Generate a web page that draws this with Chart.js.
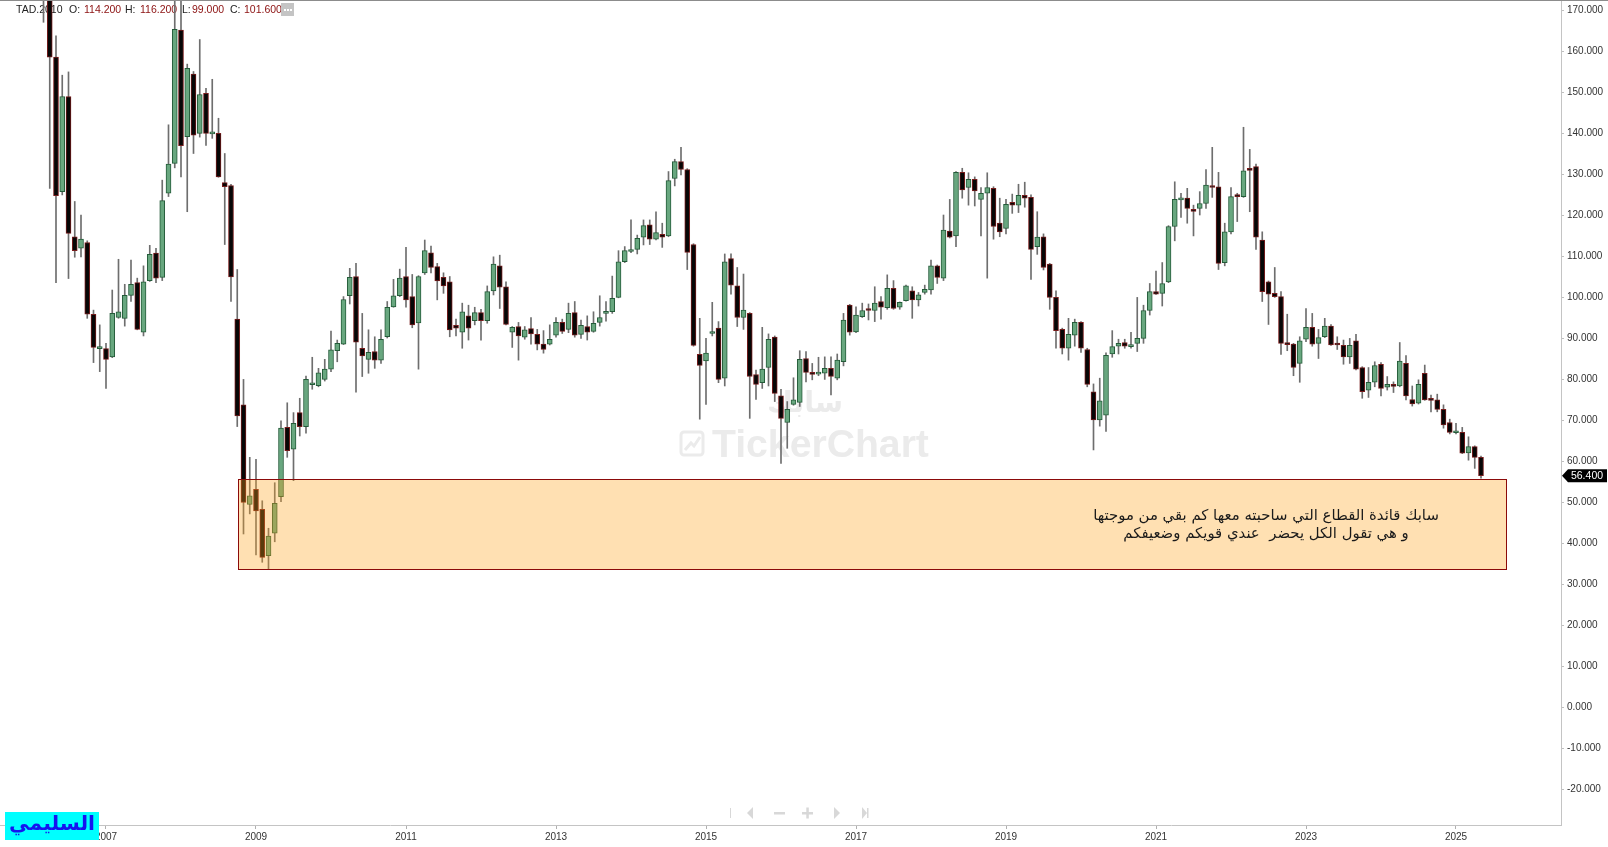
<!DOCTYPE html>
<html>
<head>
<meta charset="utf-8">
<script src="https://cdn.jsdelivr.net/npm/chart.js@4.4.1/dist/chart.umd.min.js"></script>
<style>
  html, body { margin: 0; padding: 0; background: #fff; }
  #wrap { position: relative; width: 1608px; height: 847px; }
</style>
</head>
<body>
<div id="wrap"><canvas id="myChart"></canvas></div>
<script>
var symbol = "TAD.2010";
var ohlcNames = ["O:", "H:", "L:", "C:"];
var ohlcText = ["114.200", "116.200", "99.000", "101.600"];

// monthly candles, first one is mar 2006 (x = months from jan 2007)
var firstMonth = -10;
var opens = [
  195, 185, 158.5, 125.7, 148.9, 114.7, 111.9, 113.3, 95.8, 87.4,
  87.4, 85.4, 95, 94.8, 100.4, 103.5, 91.4, 104, 110.7, 104.8, 125.3, 132.6,
  165.1, 139.1, 154.4, 139.9, 149.7, 139.8, 139.9, 127.9, 127.2, 94.6, 73.7, 49.4,
  53.1, 48.2, 36.9, 42.4, 51.3, 68.2, 62.9, 71.8, 68.4, 78.6, 78.4, 79.9,
  82.4, 86.9, 88.5, 100.3, 105, 87.5, 84.8, 86.7, 84.6, 90.3, 97.6, 100.3,
  105, 100.1, 93.7, 105.9, 110.8, 107.4, 104.8, 103.7, 93.1, 91.4, 95.4, 94.2,
  96.2, 94.2, 101.5, 107.6, 102.5, 91.4, 92.8, 90.2, 92.3, 90.9, 88.5, 88.5,
  90.7, 93.8, 92.1, 96.2, 90.9, 92.8, 91.6, 93.8, 96, 96.4, 99.9, 108.6,
  111.1, 111.6, 114.6, 117.6, 114.1, 115.3, 114.9, 128.9, 133, 131.1, 112.8, 86,
  84.4, 91.1, 92.4, 80.2, 109.4, 102.7, 95, 96, 81.1, 79.1, 82.8, 90.2,
  75.9, 69.4, 73.8, 74.3, 85, 81.6, 81.2, 81.4, 82.6, 80.2, 84.2, 98,
  91.5, 95.2, 97.2, 96.7, 98.9, 97.4, 102.1, 97.5, 99.1, 101.5, 99.3, 101.1,
  101.7, 107.6, 104.6, 116.1, 114.9, 130.4, 126.7, 128.7, 123.8, 125.3, 126.5, 118,
  116.7, 123.1, 122.4, 124.8, 124.3, 112.3, 114.7, 108, 99.9, 92.1, 87.5, 90.7,
  93.8, 87.2, 76.9, 70, 71.2, 86.1, 88, 88.9, 87.9, 88.7, 89.9, 96.7,
  101.3, 100.9, 103.7, 117.2, 123.7, 124.1, 121.4, 121.6, 122.8, 127, 126.9, 108.4,
  115.9, 124.8, 124.5, 131.2, 131.8, 113.9, 103.7, 100.9, 100.1, 88.7, 88.5, 83.8,
  89.7, 92.6, 88.7, 90.3, 92.9, 88.6, 88.2, 85.4, 89.3, 82.8, 77.3, 79.2,
  83.6, 78, 78.5, 78.3, 83.8, 75, 74.1, 81.4, 75, 74.9, 72.6, 69.4,
  66.9, 67, 62, 63.5, 60.9
];
var highs = [
  205, 192, 163.7, 154.1, 154.9, 123.3, 120, 113.7, 96.8, 93.2,
  88.7, 101.7, 109.2, 103.1, 109, 104.6, 107.6, 112.6, 111.9, 128.5, 142, 176,
  178, 156.8, 155, 162.8, 150.9, 153.1, 143.6, 135, 127.5, 106.7, 79.9, 60.9,
  60.4, 50.3, 43.6, 54.7, 69.8, 74.2, 71.8, 75.3, 80.7, 85.3, 82.6, 84.8,
  91.7, 89.5, 100.1, 107, 108.2, 96, 92, 90.3, 92, 98.9, 104.3, 106.8,
  112.1, 105.5, 105.2, 113.9, 112.4, 108.2, 105.9, 105, 94.6, 98.5, 98, 97.5,
  97, 102.7, 109.8, 110.2, 103.7, 92.8, 93.8, 92.8, 95, 92.1, 91.8, 93.2,
  95, 94.6, 98.5, 98.9, 94.4, 95.4, 96.4, 100.3, 98.9, 105.1, 111.3, 112.3,
  118.8, 115.1, 118.8, 118.8, 120.8, 118, 130.6, 133.6, 136.5, 131.3, 113, 94.8,
  89.9, 98.7, 94, 110.5, 110.5, 107.2, 105.6, 96.2, 82.2, 92.6, 91, 90.5,
  77.5, 74.5, 80.3, 86.9, 86.7, 83.8, 85.3, 85.4, 85.4, 86.1, 96, 98.2,
  97.6, 98.5, 98.3, 102.5, 100.1, 105.4, 104, 98.8, 102.9, 102.5, 101.1, 102.9,
  109, 107.8, 120, 123.8, 130.6, 131.4, 130.3, 129.3, 126.7, 130.3, 126.9, 124.1,
  123.8, 125.1, 127.5, 128, 124.9, 120.8, 115.4, 108.2, 101.5, 92.4, 94.8, 94.6,
  94, 87.5, 78.8, 80.2, 86.4, 91.8, 89.7, 89.7, 91.4, 99.9, 98, 103.3,
  106.3, 108.4, 117.4, 128.1, 125.3, 126.5, 122.4, 125.7, 131.1, 136.5, 130.4, 118,
  126.7, 125.3, 141.4, 136, 132.4, 115.9, 103.9, 107.2, 101.3, 95.8, 88.7, 90.3,
  97.2, 96, 92.1, 94.8, 93.3, 90.3, 89.5, 89.9, 90.9, 83, 82.8, 84.2,
  84, 80.6, 79.3, 88.9, 85.7, 78.3, 79.8, 83.4, 76.1, 76.3, 73.7, 70.2,
  69.2, 68.2, 65.9, 63.7, 61.2
];
var lows = [
  167, 126.5, 103.5, 124.9, 104.5, 109.7, 109.8, 94.8, 84, 81.8,
  77.7, 85.2, 94.8, 92.9, 98.9, 92, 90.5, 103.8, 103.5, 104, 124.5, 131.5,
  129.3, 120.8, 135, 139, 137, 138.7, 129.2, 112.8, 98.9, 68.4, 42.2, 47.1,
  37.1, 35.3, 33.6, 40.3, 50.1, 60.9, 55.2, 66.1, 66.8, 77.5, 78.1, 79.5,
  81.8, 84.2, 88.4, 98.3, 76.8, 80.6, 81.4, 82.6, 83.8, 90, 97.5, 100.1,
  97.5, 92.5, 82.4, 105.5, 105.9, 99.3, 100.9, 90.3, 90.5, 87.5, 89.5, 93.2,
  89.5, 93.6, 100.5, 97.2, 93.2, 87.7, 84.6, 89.7, 88.5, 87.1, 86.3, 88.3,
  90.2, 91.1, 91.3, 90.2, 89.9, 89.5, 91.4, 92.9, 94.1, 96, 99.8, 108.4,
  110.8, 110.5, 112.7, 112.8, 113.9, 112.1, 114.7, 127.1, 129.8, 106.7, 88, 70.2,
  73.8, 90.5, 79.1, 78.3, 100.7, 92.8, 92.1, 70.4, 75, 77.7, 78.3, 74.5,
  59.4, 63.1, 73.6, 73.3, 79.3, 79.8, 80.8, 79.9, 76.1, 79.8, 83.2, 90.7,
  91.3, 95, 94.4, 94, 94.6, 97, 97, 97, 99, 94.8, 97.8, 100.7,
  100.7, 103.3, 104, 114.4, 112.3, 124.1, 122.4, 122.2, 114.9, 104.6, 114.1, 114.7,
  115.4, 120.4, 120.6, 121.9, 104.3, 110.4, 106.6, 97, 87.5, 86.1, 84.6, 88,
  86.5, 78.1, 62.7, 68.5, 67.2, 85.3, 86.1, 87.5, 87.5, 86.7, 88.7, 95.6,
  100.6, 97.8, 103.5, 113.7, 119.4, 118, 114.9, 120, 121.6, 124.3, 106.7, 107.6,
  115.4, 118.4, 124.3, 120.8, 111.6, 98.9, 93.3, 99.9, 86, 86.9, 80.8, 79.2,
  89.1, 88, 85, 90.1, 88.2, 87.2, 83.6, 83.8, 82.2, 75.3, 75.5, 78.1,
  75.9, 77.3, 76.7, 78.1, 74.9, 73.4, 73.9, 74.8, 72, 72, 68, 66.6,
  66.6, 61.8, 60.2, 58.2, 55.8
];
var closes = [
  180, 158.5, 124.7, 148.9, 115.5, 111.3, 114.1, 95.8, 87.7, 87.8,
  84.8, 96, 96.4, 100.4, 103.1, 92.1, 103.7, 110.4, 104.6, 123.5, 132.4, 165.3,
  136.9, 155.8, 139.5, 149.4, 139.9, 140.2, 129.3, 126.9, 104.9, 71, 49.9, 51.5,
  47.8, 36.5, 41.7, 49.7, 68, 62.5, 69.2, 68.4, 79.9, 79, 81.5, 82.4,
  87.1, 88.7, 99.4, 104.8, 89, 85.6, 86.5, 84.6, 89.7, 97.5, 100.3, 104.6,
  99.3, 93.2, 105, 111.3, 107.2, 103.9, 102.7, 92, 92.4, 96.4, 92.4, 96.2,
  94.2, 101.3, 108, 102.4, 93.3, 92.6, 90.5, 92, 91, 88.5, 87.2, 89.7,
  93.8, 91.6, 96, 90.7, 93.1, 91.4, 93.6, 95, 96.4, 99.7, 108.6, 111.3,
  111.5, 114.3, 117.4, 114.1, 115.7, 114.6, 128.4, 133, 131.1, 110.9, 88.2, 83.3,
  86.3, 91.5, 79.9, 108.6, 102.9, 95, 96.8, 80.6, 78.7, 82.4, 89.7, 76.5,
  70.4, 72.6, 74.9, 84.8, 81.6, 81.1, 81.6, 82.6, 80.6, 84.6, 94.4, 91.4,
  95.6, 96.7, 96.7, 98.5, 97.5, 102.1, 97.2, 98.7, 102.7, 99.3, 100.5, 101.9,
  107.6, 104.8, 116.3, 114.6, 130.4, 126.1, 128.7, 125.9, 125.3, 126.7, 117.2, 115.9,
  122.6, 122.4, 124.8, 124.1, 111.6, 114.6, 107.2, 99.9, 91.8, 87.5, 90.9, 93.8,
  87.5, 78.7, 70, 74.7, 85.8, 87.9, 88.7, 88, 88.3, 89.9, 96.7, 101.3,
  100.7, 103.3, 117.2, 123.8, 124.1, 121.6, 120.9, 122.8, 127.3, 126.7, 108.2, 115.9,
  124.5, 124.5, 130.8, 130.9, 114.6, 101.3, 100.7, 100.1, 88.7, 88.4, 82.8, 89.3,
  92.6, 88.5, 90.1, 92.9, 88.3, 88.3, 85.4, 88.2, 82.4, 76.9, 79.2, 83.3,
  77.7, 78.7, 78.2, 84.4, 75.9, 73.9, 78.7, 74.9, 74.8, 72.6, 68.8, 67,
  67.2, 61.9, 63.5, 60.9, 56.4
];

var yTicks = [-20, -10, 0, 10, 20, 30, 40, 50, 60, 70, 80, 90, 100, 110, 120, 130, 140, 150, 160, 170];
var xTickYears = [2007, 2009, 2011, 2013, 2015, 2017, 2019, 2021, 2023, 2025];

// highlighted zone (months / price) and the note inside it
var zone = { from: 21.2, to: 224, top: 55.5, bottom: 33.6 };
var noteAt = { x: 185.6, y: 44.3 };
var noteLines = [
  "سابك قائدة القطاع التي ساحبته معها كم بقي من موجتها",
  "و هي تقول الكل يحضر  عندي قويكم وضعيفكم"
];
var logoText = "السليمي";
var watermark = "TickerChart";
var watermarkName = "سابك";

var bodies = [];
var wicks = [];
var fills = [];
var borders = [];
for (var k = 0; k < closes.length; k++) {
  var m = firstMonth + k;
  bodies.push({ x: m, y: [opens[k], closes[k]] });
  wicks.push({ x: m, y: [lows[k], highs[k]] });
  var up = closes[k] >= opens[k];
  fills.push(up ? "#68a77f" : "#060606");
  borders.push(up ? "#245b39" : "#771c1c");
}

function fitFont(ctx, text, weight, family, width) {
  ctx.font = weight + " 20px " + family;
  var w = ctx.measureText(text).width;
  return weight + " " + (20 * width / w).toFixed(2) + "px " + family;
}

// chart.js pads the chart area for edge labels, the reference has none
function noPad(s) {
  s.paddingLeft = 0;
  s.paddingRight = 0;
  s.paddingTop = 0;
  s.paddingBottom = 0;
}

var decor = {
  id: "decor",
  beforeDatasetsDraw: function (chart) {
    var ctx = chart.ctx;
    ctx.save();

    // watermark
    ctx.fillStyle = "#ebebeb";
    ctx.textBaseline = "alphabetic";
    ctx.textAlign = "left";
    ctx.font = fitFont(ctx, watermark, "bold", "'Liberation Sans'", 217);
    ctx.fillText(watermark, 712, 457);
    ctx.strokeStyle = "#ebebeb";
    ctx.lineWidth = 3;
    ctx.beginPath();
    ctx.roundRect(681, 432, 22, 23, 3);
    ctx.stroke();
    ctx.beginPath();
    ctx.moveTo(685, 450);
    ctx.lineTo(691, 443);
    ctx.lineTo(694, 446);
    ctx.lineTo(700, 437);
    ctx.stroke();
    ctx.textAlign = "center";
    ctx.direction = "rtl";
    ctx.font = fitFont(ctx, watermarkName, "bold", "'DejaVu Sans'", 76);
    ctx.fillText(watermarkName, 805, 412);
    ctx.direction = "ltr";

    // header
    ctx.textAlign = "left";
    ctx.textBaseline = "middle";
    ctx.font = "10.5px 'Liberation Sans'";
    ctx.fillStyle = "#222";
    ctx.fillText(symbol, 16, 10);
    var nameX = [69, 125, 182, 230];
    var valX = [84, 140, 192, 244];
    for (var i = 0; i < 4; i++) {
      ctx.fillStyle = "#222";
      ctx.fillText(ohlcNames[i], nameX[i], 10);
      ctx.fillStyle = "#8b1010";
      ctx.fillText(ohlcText[i], valX[i], 10);
    }
    ctx.fillStyle = "#c4c4c4";
    ctx.fillRect(281, 3, 13, 13);
    ctx.fillStyle = "#fff";
    ctx.fillRect(284, 9, 2, 2);
    ctx.fillRect(287, 9, 2, 2);
    ctx.fillRect(290, 9, 2, 2);
    ctx.restore();
  },
  afterDraw: function (chart) {
    var ctx = chart.ctx;
    var xs = chart.scales.x;
    var ys = chart.scales.y;
    ctx.save();

    // zone box over the candles
    var x1 = Math.round(xs.getPixelForValue(zone.from));
    var x2 = Math.round(xs.getPixelForValue(zone.to));
    var y1 = Math.round(ys.getPixelForValue(zone.top));
    var y2 = Math.round(ys.getPixelForValue(zone.bottom));
    ctx.fillStyle = "rgba(255,165,30,0.34)";
    ctx.fillRect(x1, y1, x2 - x1, y2 - y1);
    ctx.strokeStyle = "#8b0a0a";
    ctx.lineWidth = 1;
    ctx.strokeRect(x1 + 0.5, y1 + 0.5, x2 - x1, y2 - y1);

    // note
    var nx = xs.getPixelForValue(noteAt.x);
    var ny = ys.getPixelForValue(noteAt.y);
    ctx.fillStyle = "#1a1a1a";
    ctx.textAlign = "center";
    ctx.textBaseline = "middle";
    ctx.direction = "rtl";
    ctx.font = fitFont(ctx, noteLines[0], "", "'DejaVu Sans'", 346);
    ctx.fillText(noteLines[0], nx, ny - 9);
    ctx.fillText(noteLines[1], nx, ny + 9);
    ctx.direction = "ltr";

    // last price tag
    var last = closes[closes.length - 1];
    var py = ys.getPixelForValue(last);
    var ax = chart.chartArea.right + 1;
    ctx.fillStyle = "#000";
    ctx.beginPath();
    ctx.moveTo(ax, py);
    ctx.lineTo(ax + 6, py - 6.5);
    ctx.lineTo(1607, py - 6.5);
    ctx.lineTo(1607, py + 6.5);
    ctx.lineTo(ax + 6, py + 6.5);
    ctx.closePath();
    ctx.fill();
    ctx.fillStyle = "#fff";
    ctx.font = "10.5px 'Liberation Sans'";
    ctx.fillText(last.toFixed(3), 1587, py + 0.5);

    // top frame line
    ctx.fillStyle = "#8c8c8c";
    ctx.fillRect(0, 0, 1608, 1);

    // scroll controls
    ctx.fillStyle = "#d8d8d8";
    ctx.fillRect(730, 808, 1, 10);
    ctx.beginPath();
    ctx.moveTo(747, 813); ctx.lineTo(753, 807); ctx.lineTo(753, 819); ctx.closePath(); ctx.fill();
    ctx.fillRect(774, 812, 11, 2.5);
    ctx.fillRect(802, 812, 11, 2.5);
    ctx.fillRect(806.3, 807.5, 2.5, 11);
    ctx.beginPath();
    ctx.moveTo(840, 813); ctx.lineTo(834, 807); ctx.lineTo(834, 819); ctx.closePath(); ctx.fill();
    ctx.beginPath();
    ctx.moveTo(867, 813); ctx.lineTo(862, 807); ctx.lineTo(862, 819); ctx.closePath(); ctx.fill();
    ctx.fillRect(867, 808, 1.5, 10);

    // logo
    ctx.fillStyle = "#00ffff";
    ctx.fillRect(5, 812, 94, 28);
    ctx.fillStyle = "#1515f0";
    ctx.direction = "rtl";
    ctx.font = fitFont(ctx, logoText, "bold", "'DejaVu Sans'", 86);
    ctx.fillText(logoText, 52, 825);
    ctx.restore();
  }
};

new Chart("myChart", {
  type: "bar",
  data: {
    datasets: [
      {
        data: bodies,
        backgroundColor: fills,
        borderColor: borders,
        borderWidth: 1,
        borderSkipped: false,
        barThickness: 5,
        minBarLength: 2,
        grouped: false,
        order: 0,
      },
      {
        data: wicks,
        backgroundColor: "#6e6e6e",
        borderWidth: 0,
        barThickness: 1,
        grouped: false,
        order: 1,
      },
    ],
  },
  options: {
    responsive: true,
    maintainAspectRatio: false,
    animation: false,
    layout: { padding: 0 },
    plugins: {
      legend: { display: false },
      tooltip: { enabled: false },
    },
    scales: {
      x: {
        type: "linear",
        min: -16.96,
        max: 232.8,
        offset: false,
        border: { color: "#c4c4c4" },
        grid: { drawOnChartArea: false, tickLength: 4, color: "#b0b0b0", offset: false },
        ticks: {
          color: "#333",
          font: { family: "'Liberation Sans'", size: 10 },
          padding: 2,
          maxRotation: 0,
          autoSkip: false,
          callback: function (v) {
            return String(2007 + v / 12);
          },
        },
        afterBuildTicks: function (s) {
          s.ticks = xTickYears.map(function (y) {
            return { value: (y - 2007) * 12 };
          });
        },
        afterFit: function (s) {
          s.height = 22;
          noPad(s);
        },
      },
      y: {
        position: "right",
        min: -28.78,
        max: 172.44,
        border: { color: "#c4c4c4" },
        grid: { drawOnChartArea: false, tickLength: 3, color: "#c0c0c0" },
        ticks: {
          color: "#333",
          font: { family: "'Liberation Sans'", size: 10 },
          padding: 3,
          callback: function (v) {
            return v.toFixed(3);
          },
        },
        afterBuildTicks: function (s) {
          s.ticks = yTicks.map(function (v) {
            return { value: v };
          });
        },
        afterFit: function (s) {
          s.width = 47;
          noPad(s);
        },
      },
    },
  },
  plugins: [decor],
});
</script>
</body>
</html>
